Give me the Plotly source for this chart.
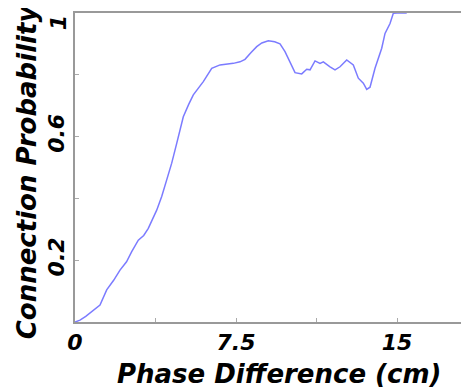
import plotly.graph_objects as go

phase_cm = [0.0, 0.233, 0.5, 0.778, 1.0, 1.164, 1.476, 1.8, 2.096, 2.4, 2.641, 2.948, 3.2, 3.414, 3.805,
            4.038, 4.271, 4.504, 4.737, 5.044, 5.3, 5.510, 5.976, 6.367, 6.754, 7.0, 7.373,
            7.685, 7.918, 8.2, 8.463, 8.7, 9.003, 9.3, 9.548, 9.781, 10.014, 10.247, 10.559, 10.792,
            10.946, 11.179, 11.411, 11.565, 11.877, 12.110, 12.343, 12.655, 12.962, 13.195,
            13.428, 13.586, 13.740, 13.973, 14.285, 14.439, 14.672, 14.825, 15.0, 15.450]
conn_prob = [0.0, 0.006, 0.018, 0.033, 0.045, 0.055, 0.104, 0.135, 0.168, 0.195, 0.228, 0.265, 0.28, 0.303, 0.362,
             0.406, 0.460, 0.514, 0.578, 0.664, 0.705, 0.735, 0.778, 0.821, 0.832, 0.834, 0.837,
             0.842, 0.850, 0.872, 0.891, 0.903, 0.910, 0.907, 0.900, 0.875, 0.842, 0.807, 0.803, 0.818,
             0.816, 0.845, 0.837, 0.842, 0.826, 0.816, 0.826, 0.848, 0.832, 0.789,
             0.773, 0.753, 0.760, 0.821, 0.886, 0.934, 0.966, 0.999, 1.0, 1.0]

x_tickvals = [0, 3.75, 7.5, 11.25, 15]
x_ticktext = ["0", "", "7.5", "", "15"]
y_tickvals = [0, 0.2, 0.4, 0.6, 0.8, 1.0]
y_ticktext = ["", "0.2", "", "0.6", "", ""]
y_top_value = 1.0
y_top_label = "1"

tick_font = dict(family="DejaVu Sans", size=22, color="black", weight="bold", style="italic")
title_font = dict(family="DejaVu Sans", size=26, color="black", weight="bold", style="italic")

fig = go.Figure()
fig.add_trace(go.Scatter(x=phase_cm, y=conn_prob, mode="lines",
                         line=dict(color="rgba(90,90,255,0.8)", width=1.5),
                         showlegend=False))

fig.update_layout(
    width=461, height=381,
    margin=dict(l=67, r=0, t=5, b=67),
    paper_bgcolor="white", plot_bgcolor="white",
    xaxis=dict(range=[0, 18.35], tickvals=x_tickvals, ticktext=x_ticktext,
               ticks="inside", ticklen=4, tickcolor="#aaaaaa", automargin=False,
               showline=True, linecolor="#999999", linewidth=1.5, mirror=True,
               showgrid=False, zeroline=False, tickfont=tick_font),
    yaxis=dict(range=[0, 1], tickvals=y_tickvals, ticktext=y_ticktext,
               ticks="inside", ticklen=4, tickcolor="#aaaaaa", tickangle=-90,
               automargin=False,
               showline=True, linecolor="#999999", linewidth=1.5, mirror=False,
               showgrid=False, zeroline=False, tickfont=tick_font),
    annotations=[
        dict(text=y_top_label, xref="paper", yref="y",
             x=-0.041, y=y_top_value, xanchor="center", yanchor="top", textangle=-90,
             showarrow=False, font=tick_font),
        dict(text="Phase Difference (cm)", xref="paper", yref="paper",
             x=0.5165, y=-0.168, xanchor="center", yanchor="middle",
             showarrow=False, font=title_font),
        dict(text="Connection Probability", xref="paper", yref="paper",
             x=-0.1225, y=0.487, xanchor="center", yanchor="middle", textangle=-90,
             showarrow=False, font=title_font, borderpad=0),
    ],
)

fig.write_html("out.html")
